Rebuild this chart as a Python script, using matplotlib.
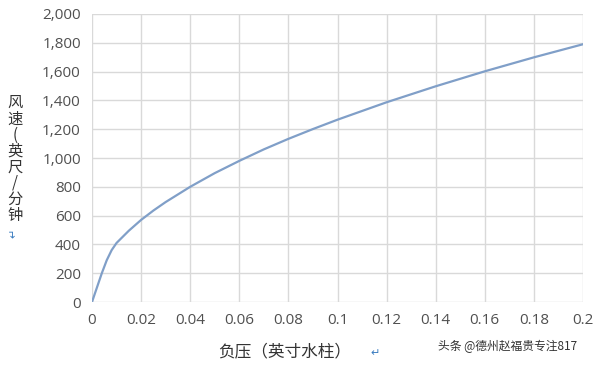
import matplotlib
matplotlib.use('Agg')
import matplotlib.pyplot as plt
from matplotlib.ticker import FuncFormatter, MultipleLocator

plt.rcParams['font.family'] = ['Noto Sans CJK SC', 'DejaVu Sans']

# values
pressure = [0, 0.002, 0.004, 0.006, 0.008, 0.01, 0.015, 0.02, 0.025, 0.03, 0.04, 0.05,
            0.06, 0.07, 0.08, 0.09, 0.1, 0.12, 0.14, 0.16, 0.18, 0.2]
velocity = [0, 100, 200, 290, 360, 410, 495, 570, 635, 694, 800, 895,
            980, 1060, 1133, 1201, 1266, 1387, 1498, 1602, 1699, 1790]

x_label = '负压（英寸水柱）'
y_label_chars = ['风', '速', '(', '英', '尺', '/', '分', '钟']
watermark = '头条 @德州赵福贵专注817'

tick_color = '#505050'
grid_color = '#d9d9d9'
line_color = '#809fc8'

fig = plt.figure(figsize=(6, 3.65), dpi=100)
ax = fig.add_axes([92 / 600, 1 - 302 / 365, 491 / 600, 288 / 365])

ax.plot(pressure, velocity, color=line_color, lw=1.6)

ax.set_xlim(0, 0.2)
ax.set_ylim(0, 2000)
ax.xaxis.set_major_locator(MultipleLocator(0.02))
ax.yaxis.set_major_locator(MultipleLocator(200))
ax.xaxis.set_major_formatter(FuncFormatter(lambda v, p: f'{v:.2f}'.rstrip('0').rstrip('.') if v else '0'))
ax.yaxis.set_major_formatter(FuncFormatter(lambda v, p: f'{v:,.0f}'))

ax.grid(True, color=grid_color, lw=1)
ax.set_axisbelow(True)
for s in ax.spines.values():
    s.set_visible(False)
ax.tick_params(length=0, labelsize=11, labelcolor=tick_color, pad=8)
for lab in ax.get_xticklabels() + ax.get_yticklabels():
    lab.set_family(['Open Sans', 'DejaVu Sans'])

# vertical stacked y label, one character per line
fig.text(15 / 600, 1 - 159 / 365, '\n'.join(y_label_chars), ha='center', va='center',
         multialignment='center', fontsize=11, linespacing=0.93, color='#333333')
fig.text(14 / 600, 1 - 233 / 365, '↵', ha='center', va='center', fontsize=8,
         color='#3a7cc0', rotation=90, family=['DejaVu Sans'])

fig.text(285 / 600, 1 - 352 / 365, x_label, ha='center', va='center',
         fontsize=12, color='#333333')
fig.text(375 / 600, 1 - 353 / 365, '↵', ha='center', va='center', fontsize=8,
         color='#3a7cc0', family=['DejaVu Sans'])
fig.text(508 / 600, 1 - 346 / 365, watermark, ha='center', va='center',
         fontsize=8.5, color='#333333')

fig.savefig('out.png', dpi=100)
